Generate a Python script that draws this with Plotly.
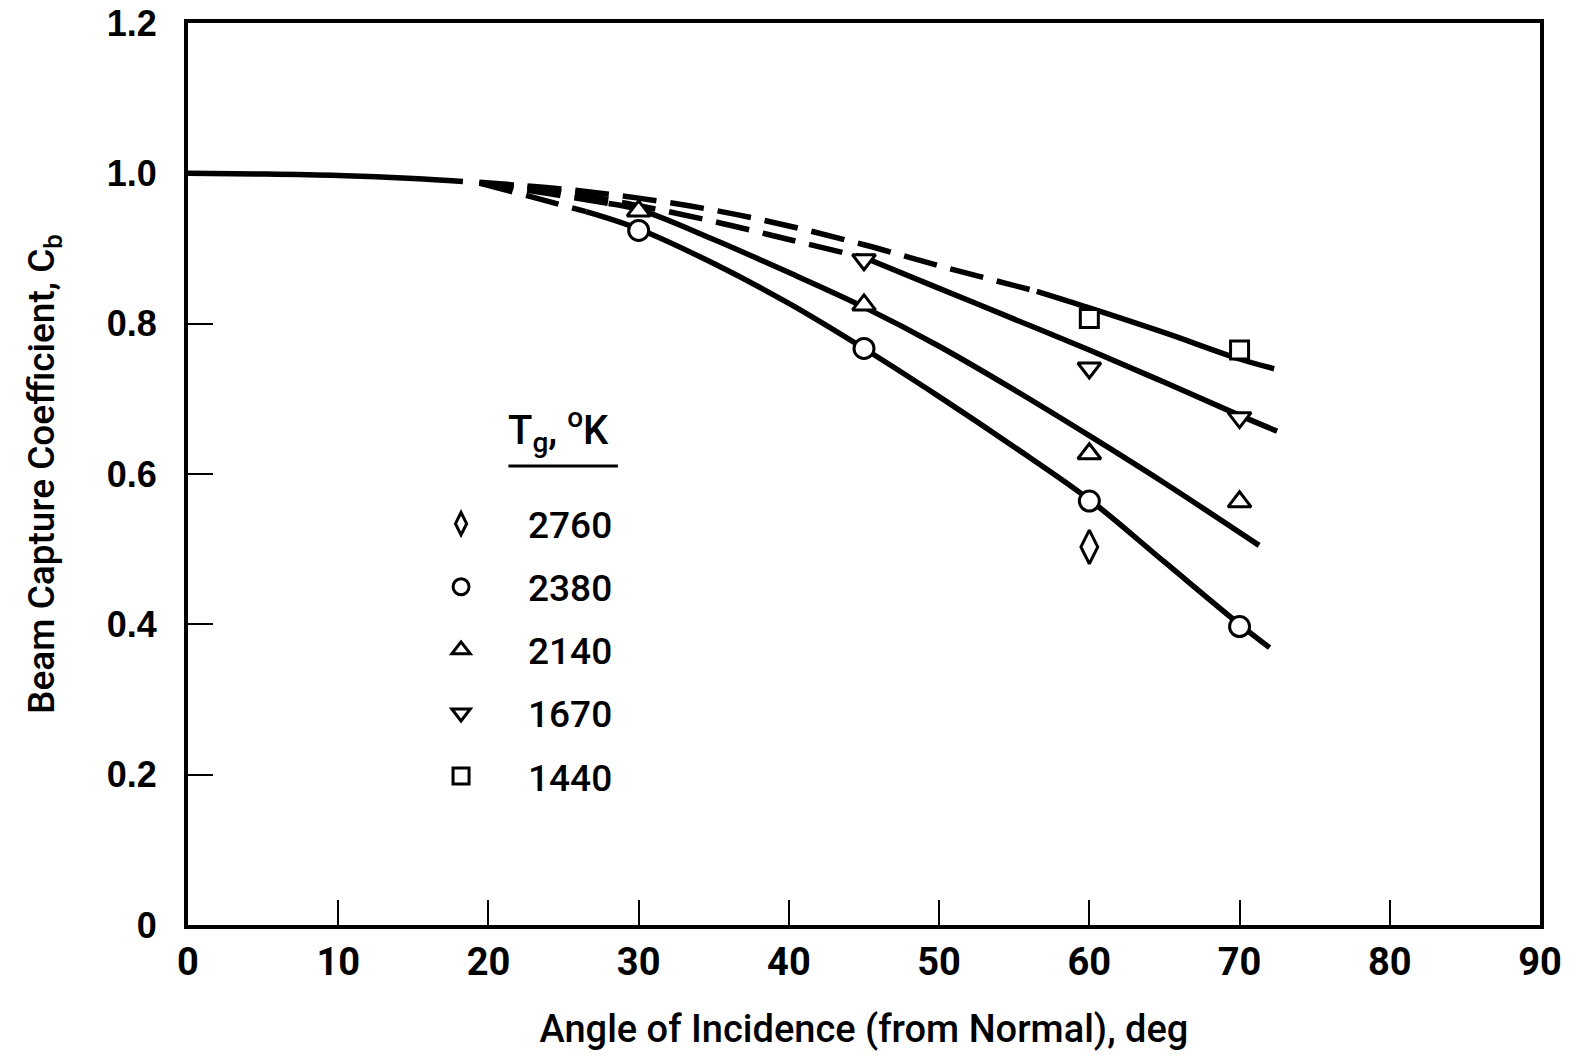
import plotly.graph_objects as go

# ---- data ----
# common solid curve near normal incidence
base_x = [0, 5, 10, 15, 18.3]
base_y = [1.0, 0.999, 0.997, 0.993, 0.989]

# fitted curves: dashed (extrapolated) part + solid part
c2380_dash_x = [19.4, 23, 26.5]
c2380_dash_y = [0.987, 0.968, 0.949]
c2380_x = [26.5, 30, 35, 40, 45, 50, 55, 60, 65, 70, 72]
c2380_y = [0.949, 0.926, 0.880, 0.827, 0.767, 0.703, 0.636, 0.566, 0.483, 0.400, 0.369]

c2140_dash_x = [19.4, 24, 28]
c2140_dash_y = [0.987, 0.973, 0.960]
c2140_x = [28, 30, 35, 40, 45, 50, 55, 60, 65, 71.3]
c2140_y = [0.960, 0.952, 0.912, 0.868, 0.822, 0.770, 0.712, 0.651, 0.588, 0.505]

c1670_dash_x = [19.4, 25, 30, 35, 40, 45]
c1670_dash_y = [0.987, 0.975, 0.957, 0.936, 0.912, 0.888]
c1670_x = [45, 50, 55, 60, 65, 70, 72.5]
c1670_y = [0.888, 0.847, 0.806, 0.765, 0.722, 0.678, 0.657]

c1440_dash_x = [19.4, 25, 30, 35, 40, 45, 50, 56.5]
c1440_dash_y = [0.988, 0.979, 0.967, 0.951, 0.930, 0.905, 0.877, 0.843]
c1440_x = [56.5, 60, 65, 70, 72.3]
c1440_y = [0.843, 0.821, 0.788, 0.753, 0.740]

# measured points
angle_2760 = [60]
cb_2760 = [0.503]
angle_2380 = [30, 45, 60, 70]
cb_2380 = [0.924, 0.767, 0.564, 0.397]
angle_2140 = [30, 45, 60, 70]
cb_2140 = [0.950, 0.825, 0.627, 0.563]
angle_1670 = [45, 60, 70]
cb_1670 = [0.885, 0.741, 0.675]
angle_1440 = [60, 70]
cb_1440 = [0.807, 0.765]

x_ticks = [0, 10, 20, 30, 40, 50, 60, 70, 80, 90]
y_ticks = [0, 0.2, 0.4, 0.6, 0.8, 1.0, 1.2]
y_ticklabels = ["0", "0.2", "0.4", "0.6", "0.8", "1.0", "1.2"]

NARROW = "Roboto, Liberation Sans Narrow, sans-serif"
LW = 5.5

fig = go.Figure()

def line(x, y, dash=None):
    fig.add_trace(go.Scatter(x=x, y=y, mode="lines", showlegend=False, hoverinfo="skip",
                             line=dict(color="black", width=LW, dash=dash or "solid", shape="spline")))

line(base_x, base_y)
for dx, dy, sx, sy in [(c2380_dash_x, c2380_dash_y, c2380_x, c2380_y),
                       (c2140_dash_x, c2140_dash_y, c2140_x, c2140_y),
                       (c1670_dash_x, c1670_dash_y, c1670_x, c1670_y),
                       (c1440_dash_x, c1440_dash_y, c1440_x, c1440_y)]:
    line(dx, dy, dash="34px,14px")
    line(sx, sy)

def pts(x, y, sym, name, size=20):
    fig.add_trace(go.Scatter(x=x, y=y, mode="markers", name=name, legendgroup=name,
                             marker=dict(symbol=sym, size=size, color="white",
                                         line=dict(color="black", width=3))))

pts(angle_2760, cb_2760, "diamond-tall", "2760", 24)
pts(angle_2380, cb_2380, "circle", "2380")
pts(angle_2140, cb_2140, "triangle-up", "2140")
pts(angle_1670, cb_1670, "triangle-down", "1670")
pts(angle_1440, cb_1440, "square", "1440", 18)

fig.update_layout(
    width=1570, height=1058,
    margin=dict(l=188, r=30, t=23, b=133),
    paper_bgcolor="white", plot_bgcolor="white",
    showlegend=True,
    legend=dict(x=0.1524, y=0.4788, xanchor="left", yanchor="top",
                font=dict(family=NARROW, size=37, color="black", weight=500),
                bgcolor="rgba(0,0,0,0)", itemwidth=124, tracegroupgap=12),
    xaxis=dict(range=[0, 90], tickvals=x_ticks, ticks="inside", ticklen=25, tickwidth=2,
               tickcolor="black", showline=True, linecolor="black", linewidth=4, mirror=True,
               showgrid=False, zeroline=False, automargin=False,
               tickfont=dict(family=NARROW, size=38, color="black", weight="bold"),
               title=dict(text="Angle of Incidence (from Normal), deg", standoff=34,
                          font=dict(family=NARROW, size=38, color="black", weight=500))),
    yaxis=dict(range=[0, 1.2], tickvals=y_ticks, ticktext=y_ticklabels, ticks="inside",
               ticklen=25, tickwidth=2, tickcolor="black", showline=True, linecolor="black",
               linewidth=4, mirror=True, showgrid=False, zeroline=False, ticklabelstandoff=20,
               automargin=False,
               tickfont=dict(family="Liberation Sans, Arial, sans-serif", size=36, color="black",
                             weight="bold"),
               title=dict(text="Beam Capture Coefficient, C<sub>b</sub>", standoff=42,
                          font=dict(family=NARROW, size=37, color="black", weight=500))),
)

fig.add_annotation(x=0.235, y=0.5144, xref="paper", yref="paper", xanchor="left", yanchor="bottom",
                   showarrow=False, text="T<sub>g</sub>, <sup>o</sup>K",
                   font=dict(family=NARROW, size=40, color="black", weight=500))
fig.add_shape(type="line", xref="paper", yref="paper", x0=0.237, x1=0.318, y0=0.5089, y1=0.5089,
              line=dict(color="black", width=3))

fig.write_html("out.html")
